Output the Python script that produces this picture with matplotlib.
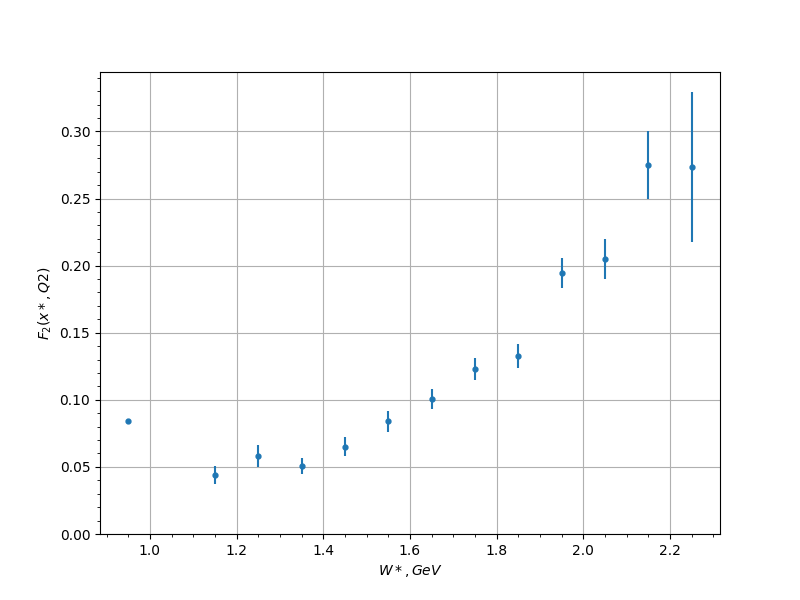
import numpy as np
import matplotlib
matplotlib.use("Agg")
import matplotlib.pyplot as plt

# W* bin centres, GeV
w_bins = [0.95, 1.15, 1.25, 1.35, 1.45, 1.55, 1.65, 1.75, 1.85, 1.95, 2.05, 2.15, 2.25]
# structure function F2 and its uncertainty
f2_vals = [0.0843, 0.044, 0.058, 0.0507, 0.065, 0.084, 0.1005, 0.123, 0.1326,
           0.1945, 0.205, 0.2751, 0.2737]
f2_errs = [0.0, 0.0067, 0.008, 0.006, 0.007, 0.008, 0.0073, 0.008, 0.009,
           0.0115, 0.015, 0.0255, 0.056]

fig, ax = plt.subplots(figsize=(8, 6), dpi=100)
ax.errorbar(w_bins, f2_vals, yerr=f2_errs, fmt='o', markersize=3.5, color='tab:blue')
ax.set_ylim(bottom=0)
ax.set_xlabel(r'$W*, GeV$')
ax.set_ylabel(r'$F_2(x*, Q2)$')
ax.minorticks_on()
ax.grid(which='major')

plt.savefig("out.png", dpi=100)
plt.close()
